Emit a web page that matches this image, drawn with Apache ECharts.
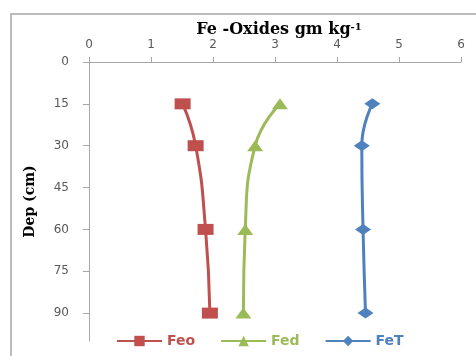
<!DOCTYPE html>
<html><head><meta charset="utf-8">
<script src="https://cdn.jsdelivr.net/npm/echarts@6/dist/echarts.min.js"></script>
<style>html,body{margin:0;padding:0;background:#fff}#c{width:476px;height:356px}</style>
</head><body><div id="c"></div>
<script>
const depths = [15, 30, 60, 90];
const feo = [1.51, 1.72, 1.88, 1.95];
const fed = [3.08, 2.68, 2.52, 2.49];
const fet = [4.57, 4.40, 4.42, 4.46];
const xTicks = [0, 1, 2, 3, 4, 5, 6];
const yTicks = [0, 15, 30, 45, 60, 75, 90];
const names = ['Feo', 'Fed', 'FeT'];
const colors = ['#C0504D', '#9BBB59', '#4F81BD'];
const symbols = ['rect', 'triangle', 'diamond'];

const chart = echarts.init(document.getElementById('c'));
const pairs = v => v.map((x, i) => [x, depths[i]]);
const vals = [feo, fed, fet];
chart.setOption({
  animation: false,
  graphic: [{type:'rect', shape:{x:11, y:14, width:480, height:360}, style:{fill:'none', stroke:'#A6A6A6', lineWidth:1.5}, silent:true}],
  title: {text: '{m|Fe -Oxides gm kg}{s|-1}', left: 274, top: 17, textAlign: 'center',
    textStyle: {rich: {
      m: {fontFamily: 'DejaVu Serif', fontWeight: 'bold', fontSize: 16, color: '#000'},
      s: {fontFamily: 'DejaVu Serif', fontWeight: 'bold', fontSize: 10, color: '#000', verticalAlign: 'top', padding: [0,0,6,0]}}}},
  grid: {left: 89, top: 62, right: 15, bottom: 15},
  xAxis: {type: 'value', position: 'top', min: 0, max: 6, interval: 1,
    axisLine: {show: true, lineStyle: {color: '#A6A6A6', width: 1}},
    axisTick: {show: true, inside: false, length: 5, lineStyle: {color: '#A6A6A6'}},
    axisLabel: {color: '#595959', fontFamily: 'DejaVu Sans', fontSize: 12, margin: 11,
      formatter: v => xTicks.includes(v) ? String(v) : ''},
    splitLine: {show: false}},
  yAxis: {type: 'value', inverse: true, min: 0, max: 100, interval: 15,
    name: 'Dep (cm)', nameLocation: 'middle', nameGap: 52, nameRotate: 90,
    nameTextStyle: {fontFamily: 'DejaVu Serif', fontWeight: 'bold', fontSize: 14, color: '#000'},
    axisLine: {show: true, lineStyle: {color: '#A6A6A6', width: 1}},
    axisTick: {show: true, length: 6, lineStyle: {color: '#A6A6A6'}},
    axisLabel: {color: '#595959', fontFamily: 'DejaVu Sans', fontSize: 12, margin: 20, showMaxLabel: false,
      formatter: v => yTicks.includes(v) ? String(v) : ''},
    splitLine: {show: false}},
  legend: {top: 329, left: 111, itemGap: 25, itemWidth: 45, itemHeight: 13,
    data: names.map((n, i) => ({name: n, textStyle: {color: colors[i], fontWeight: 'bold', fontFamily: 'DejaVu Sans', fontSize: 14}}))},
  series: names.map((n, i) => ({
    name: n, type: 'line', smooth: true, data: pairs(vals[i]),
    symbol: symbols[i], symbolSize: [16, 11], clip: false,
    lineStyle: {color: colors[i], width: 3},
    itemStyle: {color: colors[i]}
  }))
});
</script></body></html>
